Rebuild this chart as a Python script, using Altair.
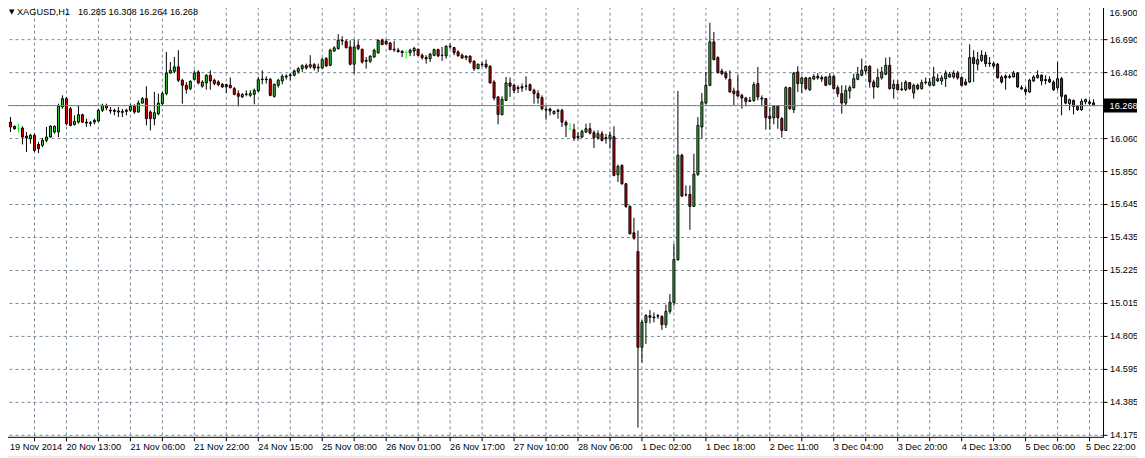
import json
import altair as alt
import numpy as np
import pandas as pd

symbol = "XAGUSD,H1"
bid = 16.268

opens = [16.429, 16.248, 16.163, 16.136, 16.125, 16.125, 16.074, 16.057, 16.079, 16.021,
         16.015, 16.047, 16.068, 16.100, 16.100, 16.259, 16.312, 16.248, 16.147, 16.163,
         16.210, 16.163, 16.159, 16.163, 16.170, 16.238, 16.267, 16.238, 16.238, 16.227,
         16.225, 16.231, 16.238, 16.263, 16.227, 16.284, 16.312, 16.227, 16.185, 16.216,
         16.280, 16.344, 16.475, 16.486, 16.514, 16.429, 16.397, 16.376, 16.435, 16.482,
         16.391, 16.412, 16.461, 16.429, 16.418, 16.403, 16.401, 16.397, 16.376, 16.344,
         16.323, 16.338, 16.333, 16.340, 16.361, 16.433, 16.437, 16.435, 16.327, 16.397,
         16.425, 16.450, 16.458, 16.461, 16.486, 16.503, 16.522, 16.514, 16.528, 16.512,
         16.507, 16.567, 16.524, 16.615, 16.630, 16.679, 16.675, 16.641, 16.531, 16.652,
         16.626, 16.556, 16.550, 16.577, 16.603, 16.683, 16.677, 16.666, 16.626, 16.620,
         16.613, 16.605, 16.605, 16.615, 16.626, 16.588, 16.573, 16.567, 16.588, 16.624,
         16.586, 16.584, 16.641, 16.637, 16.609, 16.588, 16.582, 16.582, 16.550, 16.503,
         16.531, 16.531, 16.518, 16.418, 16.323, 16.210, 16.301, 16.412, 16.397, 16.382,
         16.380, 16.391, 16.401, 16.365, 16.344, 16.318, 16.244, 16.246, 16.216, 16.238,
         16.238, 16.161, 16.119, 16.115, 16.072, 16.068, 16.100, 16.121, 16.096, 16.062,
         16.089, 16.064, 16.057, 16.070, 15.828, 15.888, 15.771, 15.627, 15.459, 15.340,
         14.731, 14.890, 14.932, 14.924, 14.928, 14.926, 14.875, 14.960, 15.017, 15.289,
         15.952, 15.703, 15.703, 15.627, 15.831, 16.132, 16.284, 16.397, 16.673, 16.573,
         16.488, 16.475, 16.435, 16.361, 16.361, 16.333, 16.316, 16.301, 16.301, 16.408,
         16.316, 16.312, 16.200, 16.191, 16.265, 16.185, 16.110, 16.382, 16.242, 16.482,
         16.408, 16.444, 16.369, 16.437, 16.454, 16.446, 16.450, 16.403, 16.454, 16.382,
         16.344, 16.284, 16.361, 16.382, 16.435, 16.461, 16.488, 16.518, 16.418, 16.386,
         16.444, 16.467, 16.524, 16.376, 16.403, 16.369, 16.369, 16.414, 16.348, 16.397,
         16.376, 16.414, 16.397, 16.397, 16.425, 16.425, 16.439, 16.450, 16.450, 16.475,
         16.446, 16.418, 16.418, 16.573, 16.531, 16.556, 16.588, 16.539, 16.535, 16.531,
         16.450, 16.456, 16.454, 16.450, 16.475, 16.382, 16.371, 16.355, 16.425, 16.446,
         16.461, 16.433, 16.435, 16.418, 16.382, 16.439, 16.333, 16.280, 16.301, 16.263,
         16.242, 16.291, 16.291, 16.285]

highs = [16.446, 16.259, 16.195, 16.142, 16.153, 16.136, 16.100, 16.089, 16.089, 16.036,
         16.062, 16.132, 16.142, 16.142, 16.280, 16.333, 16.323, 16.259, 16.206, 16.270,
         16.216, 16.185, 16.170, 16.185, 16.248, 16.280, 16.280, 16.259, 16.248, 16.259,
         16.246, 16.248, 16.276, 16.276, 16.301, 16.323, 16.391, 16.238, 16.355, 16.344,
         16.355, 16.609, 16.545, 16.577, 16.620, 16.439, 16.418, 16.429, 16.492, 16.492,
         16.429, 16.467, 16.492, 16.439, 16.429, 16.412, 16.408, 16.446, 16.386, 16.365,
         16.348, 16.365, 16.365, 16.376, 16.450, 16.492, 16.454, 16.444, 16.408, 16.439,
         16.467, 16.467, 16.475, 16.497, 16.514, 16.531, 16.535, 16.588, 16.539, 16.535,
         16.573, 16.577, 16.630, 16.645, 16.722, 16.709, 16.688, 16.683, 16.688, 16.683,
         16.630, 16.577, 16.588, 16.630, 16.688, 16.694, 16.690, 16.673, 16.679, 16.635,
         16.620, 16.620, 16.630, 16.641, 16.630, 16.599, 16.588, 16.603, 16.630, 16.630,
         16.641, 16.652, 16.662, 16.641, 16.620, 16.599, 16.588, 16.588, 16.556, 16.535,
         16.545, 16.560, 16.524, 16.429, 16.327, 16.327, 16.450, 16.446, 16.408, 16.397,
         16.408, 16.454, 16.408, 16.376, 16.365, 16.333, 16.270, 16.255, 16.238, 16.248,
         16.248, 16.174, 16.157, 16.153, 16.100, 16.115, 16.153, 16.157, 16.110, 16.110,
         16.106, 16.089, 16.104, 16.136, 15.894, 15.894, 15.775, 15.633, 15.555, 15.474,
         14.905, 14.943, 14.968, 14.953, 14.943, 14.936, 15.002, 15.070, 15.389, 16.361,
         15.962, 15.760, 15.760, 15.962, 16.195, 16.348, 16.482, 16.794, 16.736, 16.582,
         16.503, 16.488, 16.492, 16.382, 16.461, 16.344, 16.323, 16.323, 16.418, 16.514,
         16.333, 16.316, 16.259, 16.270, 16.270, 16.195, 16.391, 16.386, 16.482, 16.518,
         16.454, 16.450, 16.450, 16.467, 16.475, 16.461, 16.454, 16.475, 16.461, 16.397,
         16.397, 16.397, 16.397, 16.471, 16.514, 16.567, 16.524, 16.524, 16.433, 16.503,
         16.514, 16.573, 16.577, 16.433, 16.429, 16.418, 16.429, 16.418, 16.408, 16.408,
         16.433, 16.446, 16.444, 16.514, 16.471, 16.461, 16.492, 16.482, 16.492, 16.488,
         16.454, 16.439, 16.658, 16.620, 16.609, 16.620, 16.609, 16.577, 16.545, 16.539,
         16.461, 16.467, 16.467, 16.488, 16.482, 16.397, 16.386, 16.439, 16.461, 16.492,
         16.467, 16.461, 16.454, 16.429, 16.545, 16.450, 16.340, 16.312, 16.306, 16.270,
         16.312, 16.312, 16.306, 16.308]

lows = [16.238, 16.163, 16.100, 16.115, 16.096, 16.021, 15.973, 16.026, 15.973, 15.966,
        16.004, 16.036, 16.064, 16.089, 16.068, 16.248, 16.142, 16.136, 16.142, 16.153,
        16.157, 16.132, 16.136, 16.149, 16.163, 16.227, 16.238, 16.216, 16.206, 16.195,
        16.195, 16.206, 16.227, 16.216, 16.223, 16.280, 16.142, 16.110, 16.142, 16.206,
        16.270, 16.333, 16.471, 16.475, 16.418, 16.280, 16.344, 16.365, 16.429, 16.403,
        16.382, 16.369, 16.369, 16.397, 16.391, 16.382, 16.348, 16.376, 16.333, 16.263,
        16.316, 16.327, 16.323, 16.276, 16.355, 16.403, 16.408, 16.327, 16.318, 16.382,
        16.403, 16.433, 16.429, 16.454, 16.471, 16.482, 16.497, 16.503, 16.492, 16.482,
        16.503, 16.514, 16.518, 16.609, 16.624, 16.652, 16.630, 16.524, 16.471, 16.620,
        16.535, 16.503, 16.539, 16.573, 16.599, 16.652, 16.656, 16.620, 16.609, 16.605,
        16.577, 16.567, 16.582, 16.582, 16.582, 16.560, 16.535, 16.545, 16.582, 16.577,
        16.552, 16.567, 16.630, 16.588, 16.577, 16.565, 16.556, 16.535, 16.488, 16.499,
        16.514, 16.503, 16.408, 16.301, 16.149, 16.206, 16.297, 16.323, 16.348, 16.348,
        16.355, 16.365, 16.361, 16.280, 16.280, 16.238, 16.178, 16.206, 16.212, 16.185,
        16.132, 16.068, 16.115, 16.043, 16.051, 16.062, 16.093, 16.085, 15.998, 16.051,
        16.040, 16.026, 15.994, 15.818, 15.782, 15.765, 15.618, 15.449, 15.415, 14.221,
        14.635, 14.752, 14.883, 14.890, 14.911, 14.841, 14.854, 14.943, 14.995, 15.280,
        15.686, 15.690, 15.478, 15.623, 15.820, 16.057, 16.276, 16.391, 16.556, 16.471,
        16.461, 16.433, 16.348, 16.270, 16.323, 16.248, 16.263, 16.291, 16.291, 16.301,
        16.263, 16.115, 16.115, 16.149, 16.121, 16.064, 16.106, 16.242, 16.221, 16.355,
        16.348, 16.365, 16.361, 16.429, 16.433, 16.418, 16.391, 16.397, 16.369, 16.323,
        16.216, 16.270, 16.312, 16.376, 16.429, 16.454, 16.467, 16.382, 16.312, 16.382,
        16.433, 16.461, 16.369, 16.312, 16.365, 16.361, 16.361, 16.369, 16.312, 16.365,
        16.369, 16.403, 16.391, 16.391, 16.418, 16.401, 16.386, 16.444, 16.439, 16.433,
        16.391, 16.395, 16.412, 16.418, 16.492, 16.545, 16.514, 16.514, 16.507, 16.439,
        16.408, 16.369, 16.439, 16.446, 16.382, 16.369, 16.333, 16.348, 16.418, 16.439,
        16.397, 16.403, 16.412, 16.361, 16.365, 16.206, 16.276, 16.238, 16.212, 16.234,
        16.234, 16.276, 16.270, 16.264]

closes = [16.248, 16.170, 16.132, 16.121, 16.125, 16.068, 16.062, 16.079, 15.983, 15.994,
          16.047, 16.068, 16.138, 16.136, 16.263, 16.312, 16.153, 16.142, 16.168, 16.210,
          16.163, 16.157, 16.155, 16.174, 16.238, 16.270, 16.253, 16.234, 16.231, 16.234,
          16.231, 16.238, 16.263, 16.227, 16.284, 16.312, 16.185, 16.185, 16.223, 16.284,
          16.344, 16.475, 16.492, 16.514, 16.429, 16.397, 16.371, 16.422, 16.475, 16.412,
          16.418, 16.461, 16.425, 16.408, 16.401, 16.386, 16.388, 16.382, 16.340, 16.327,
          16.338, 16.342, 16.344, 16.365, 16.433, 16.437, 16.433, 16.333, 16.403, 16.429,
          16.454, 16.456, 16.463, 16.488, 16.503, 16.522, 16.507, 16.528, 16.507, 16.507,
          16.560, 16.520, 16.620, 16.635, 16.683, 16.683, 16.637, 16.531, 16.641, 16.630,
          16.545, 16.550, 16.582, 16.620, 16.683, 16.656, 16.660, 16.624, 16.622, 16.611,
          16.605, 16.605, 16.620, 16.632, 16.588, 16.573, 16.565, 16.594, 16.624, 16.584,
          16.588, 16.645, 16.645, 16.605, 16.586, 16.571, 16.573, 16.545, 16.503, 16.531,
          16.528, 16.514, 16.412, 16.316, 16.212, 16.308, 16.412, 16.391, 16.365, 16.376,
          16.388, 16.393, 16.365, 16.344, 16.316, 16.248, 16.240, 16.234, 16.231, 16.231,
          16.163, 16.144, 16.119, 16.062, 16.064, 16.104, 16.121, 16.093, 16.064, 16.089,
          16.047, 16.057, 16.079, 15.824, 15.881, 15.771, 15.627, 15.453, 15.425, 14.731,
          14.890, 14.932, 14.922, 14.919, 14.932, 14.875, 14.960, 15.017, 15.289, 15.952,
          15.693, 15.701, 15.627, 15.831, 16.142, 16.291, 16.397, 16.673, 16.560, 16.478,
          16.471, 16.446, 16.355, 16.344, 16.329, 16.316, 16.295, 16.295, 16.401, 16.323,
          16.310, 16.191, 16.185, 16.263, 16.191, 16.110, 16.382, 16.248, 16.475, 16.408,
          16.444, 16.376, 16.444, 16.454, 16.444, 16.437, 16.397, 16.454, 16.376, 16.344,
          16.284, 16.365, 16.382, 16.439, 16.467, 16.492, 16.518, 16.418, 16.386, 16.446,
          16.482, 16.524, 16.376, 16.403, 16.369, 16.374, 16.418, 16.376, 16.397, 16.376,
          16.414, 16.418, 16.418, 16.450, 16.439, 16.444, 16.475, 16.467, 16.475, 16.444,
          16.397, 16.401, 16.573, 16.535, 16.560, 16.588, 16.535, 16.535, 16.520, 16.446,
          16.418, 16.444, 16.448, 16.475, 16.386, 16.374, 16.355, 16.429, 16.450, 16.461,
          16.425, 16.427, 16.418, 16.369, 16.439, 16.327, 16.284, 16.306, 16.263, 16.242,
          16.295, 16.306, 16.282, 16.268]

date_labels = ["19 Nov 2014", "20 Nov 13:00", "21 Nov 06:00", "21 Nov 22:00", "24 Nov 15:00",
               "25 Nov 08:00", "26 Nov 01:00", "26 Nov 17:00", "27 Nov 10:00", "28 Nov 06:00",
               "1 Dec 02:00", "1 Dec 18:00", "2 Dec 11:00", "3 Dec 04:00", "3 Dec 20:00",
               "4 Dec 13:00", "5 Dec 06:00", "5 Dec 22:00"]
price_ticks = [14.175, 14.385, 14.595, 14.805, 15.015, 15.225, 15.435, 15.645, 15.850,
               16.060, 16.270, 16.480, 16.690, 16.900]

FONT = "Liberation Sans"
GRID = "#778899"
FS = 9.2

n = len(opens)
df = pd.DataFrame({"bar": np.arange(n), "open": opens, "high": highs,
                   "low": lows, "close": closes})
df["kind"] = np.where(df["close"] > df["open"], "up",
                      np.where(df["close"] < df["open"], "down", "doji"))
one = pd.DataFrame({"k": [0]})  # single row for annotations

x_scale = alt.Scale(domain=[-0.375, 275.375], nice=False, zero=False, padding=0)
y_scale = alt.Scale(domain=[14.162, 16.938], nice=False, zero=False, padding=0)

# first and last date labels sit at the very edges; they are drawn separately
labels_js = json.dumps([""] + date_labels[1:-1] + [""])
x_axis = alt.Axis(
    orient="bottom", title=None, values=list(range(0, 273, 8)),
    labelExpr=f"datum.value % 16 == 0 ? {labels_js}[datum.value / 16] : ''",
    grid=True, gridColor=GRID, gridDash=[3, 3], gridWidth=1,
    domainColor="black", domainWidth=1, tickColor="black", tickSize=4,
    tickOffset=-0.5, labelAlign="left", labelBaseline="top", labelPadding=2,
    labelFont=FONT, labelFontSize=FS, labelColor="black",
    labelOverlap=False, labelFlush=False, labelBound=False,
)
y_axis = alt.Axis(
    orient="right", title=None, values=price_ticks, format=".3f",
    labelExpr=f"datum.value > {price_ticks[-1] - 0.01} ? '' : datum.label",
    grid=True, gridColor=GRID, gridDash=[3, 3], gridWidth=1,
    domainColor="black", domainWidth=1, tickColor="black", tickSize=4,
    labelPadding=2.5, labelFont=FONT, labelFontSize=FS, labelColor="black",
    labelOverlap=False, labelFlush=False, labelBound=False,
)

X = alt.X("bar:Q", scale=x_scale, axis=x_axis)

base = alt.Chart(df)

wicks = base.mark_rule(strokeWidth=1).encode(
    x=X,
    y=alt.Y("low:Q", scale=y_scale, axis=y_axis),
    y2="high:Q",
    color=alt.Color("kind:N", scale=alt.Scale(domain=["up", "down", "doji"],
                                              range=["black", "black", "#00ff00"]),
                    legend=None),
)

bodies = base.transform_filter("datum.kind != 'doji'").mark_bar(
    size=2, stroke="black", strokeWidth=1
).encode(
    x=X,
    y=alt.Y("open:Q", scale=y_scale, axis=y_axis),
    y2="close:Q",
    fill=alt.Fill("kind:N", scale=alt.Scale(domain=["up", "down"],
                                            range=["#32cd32", "#e00000"]),
                  legend=None),
)

dojis = base.transform_filter("datum.kind == 'doji'").mark_tick(
    orient="horizontal", size=3, thickness=1, color="#00ff00"
).encode(
    x=X,
    y=alt.Y("open:Q", scale=y_scale, axis=y_axis),
)

ann = alt.Chart(one)

bid_line = ann.mark_rule(color=GRID, strokeWidth=1).encode(
    y=alt.datum(bid, scale=y_scale, axis=y_axis)
)

bid_box = ann.mark_rect(color="black", yOffset=-7, y2Offset=7).encode(
    x=alt.value(1104), x2=alt.value(1143),
    y=alt.datum(bid, scale=y_scale, axis=y_axis), y2=alt.datum(bid),
)

txt = dict(align="left", font=FONT, fontSize=FS)

bid_text = ann.mark_text(baseline="middle", color="white", **txt).encode(
    x=alt.value(1109.5), y=alt.datum(bid, scale=y_scale, axis=y_axis),
    text=alt.value(f"{bid:.3f}"))

top_label = ann.mark_text(baseline="middle", color="black", **txt).encode(
    x=alt.value(1109.5), y=alt.value(12.5), text=alt.value(f"{price_ticks[-1]:.3f}"))

first_label = ann.mark_text(baseline="top", color="black", **txt).encode(
    x=alt.value(9), y=alt.value(443.5), text=alt.value(date_labels[0]))
last_label = ann.mark_text(baseline="top", color="black", **txt).encode(
    x=alt.value(1086), y=alt.value(443.5), text=alt.value(date_labels[-1]))

last = df.iloc[-1]
header_vals = f"{last['open']:.3f} {last['high']:.3f} {last['low']:.3f} {last['close']:.3f}"

hdr_tri = ann.mark_text(
    align="left", baseline="middle", color="black", font="DejaVu Sans", fontSize=7
).encode(x=alt.value(8), y=alt.value(12), text=alt.value("▼"))
hdr_sym = ann.mark_text(baseline="middle", color="black", **txt).encode(
    x=alt.value(16), y=alt.value(12), text=alt.value(symbol))
hdr_vals = ann.mark_text(baseline="middle", color="black", **txt).encode(
    x=alt.value(77), y=alt.value(12), text=alt.value(header_vals))

strip = ann.mark_rect(color="#ececec").encode(
    x=alt.value(0), x2=alt.value(1145), y=alt.value(456), y2=alt.value(458)
)

chart = alt.layer(
    wicks, bodies, dojis, bid_line, bid_box, bid_text, top_label, first_label,
    last_label, hdr_tri, hdr_sym, hdr_vals, strip
).properties(
    width=1103, height=437,
    padding={"left": -8, "top": -8, "right": -8, "bottom": 0},
    background="white",
).configure_view(stroke=None)

chart.save("out.html", embed_options={"renderer": "svg", "actions": False})
